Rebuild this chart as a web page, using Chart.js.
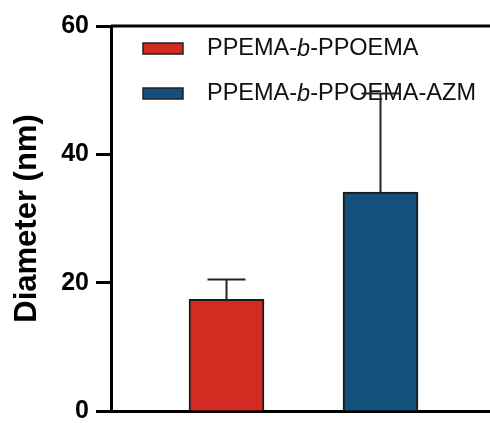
<!DOCTYPE html>
<html>
<head>
<meta charset="utf-8">
<script src="https://cdn.jsdelivr.net/npm/chart.js@4.4.0/dist/chart.umd.min.js"></script>
<style>
  html, body { margin: 0; padding: 0; background: #fff; }
  #wrap { width: 490px; height: 423px; }
</style>
</head>
<body>
<div id="wrap"><canvas id="sizeChart"></canvas></div>
<script>
const categories = ["PPEMA-b-PPOEMA", "PPEMA-b-PPOEMA-AZM"];
const diameters = [17.4, 34.1];
const errors = [3.1, 15.4];
const barColors = ["#D32B21", "#14507C"];
const yTicks = [0, 20, 40, 60];

const FONT = "'Liberation Sans', Arial, sans-serif";

// error bars (upper only, like the original)
const errorBars = {
  id: "errorBars",
  afterDatasetsDraw(chart) {
    const { ctx, scales } = chart;
    const meta = chart.getDatasetMeta(0);
    ctx.save();
    ctx.strokeStyle = "#222";
    ctx.lineWidth = 2;
    meta.data.forEach((bar, i) => {
      const yTop = scales.y.getPixelForValue(diameters[i] + errors[i]);
      const yBar = scales.y.getPixelForValue(diameters[i]);
      ctx.beginPath();
      ctx.moveTo(bar.x, yBar);
      ctx.lineTo(bar.x, yTop);
      ctx.moveTo(bar.x - 19, yTop);
      ctx.lineTo(bar.x + 19, yTop);
      ctx.stroke();
    });
    ctx.restore();
  }
};

// top frame line
const topFrame = {
  id: "topFrame",
  afterDraw(chart) {
    const { ctx, chartArea } = chart;
    ctx.save();
    ctx.strokeStyle = "#000";
    ctx.lineWidth = 3;
    ctx.beginPath();
    ctx.moveTo(chartArea.left, chartArea.top);
    ctx.lineTo(chartArea.right, chartArea.top);
    ctx.stroke();
    ctx.restore();
  }
};

// legend with the italic "b"
const italicLegend = {
  id: "italicLegend",
  beforeDatasetsDraw(chart) {
    const { ctx } = chart;
    ctx.save();
    categories.forEach((name, i) => {
      const boxY = 43 + i * 45;
      ctx.fillStyle = barColors[i];
      ctx.fillRect(143, boxY, 40, 11);
      ctx.strokeStyle = "#222";
      ctx.lineWidth = 1.5;
      ctx.strokeRect(143, boxY, 40, 11);

      const parts = name.split("-b-");
      const pieces = [
        [parts[0] + "-", "normal"],
        ["b", "italic"],
        ["-" + parts[1], "normal"]
      ];
      let x = 207;
      ctx.fillStyle = "#111";
      ctx.textBaseline = "middle";
      pieces.forEach(([txt, style]) => {
        ctx.font = style + " 23.5px " + FONT;
        ctx.fillText(txt, x, boxY + 6);
        x += ctx.measureText(txt).width;
      });
    });
    ctx.restore();
  }
};

new Chart(document.getElementById("sizeChart"), {
  type: "bar",
  data: {
    datasets: [{
      data: diameters.map((v, i) => ({ x: i + 1, y: v })),
      backgroundColor: barColors,
      borderColor: "#1a1a1a",
      borderWidth: 2,
      barThickness: 75
    }]
  },
  options: {
    responsive: true,
    maintainAspectRatio: false,
    animation: false,
    layout: { padding: { top: 26, bottom: 12, left: 0, right: 0 } },
    plugins: {
      legend: { display: false },
      tooltip: { enabled: false }
    },
    scales: {
      x: {
        type: "linear",
        offset: false,
        min: 0.25,
        max: 2.711,
        grid: { display: false },
        ticks: { display: false },
        border: { display: true, color: "#000", width: 3 },
        afterFit(scale) {
          scale.height = 0;
          scale.paddingLeft = 0;
          scale.paddingRight = 0;
        }
      },
      y: {
        min: 0,
        max: 60,
        afterBuildTicks(scale) {
          scale.ticks = yTicks.map(v => ({ value: v }));
        },
        afterFit(scale) {
          scale.width = 111;
          scale.paddingTop = 0;
          scale.paddingBottom = 0;
        },
        grid: {
          drawOnChartArea: false,
          drawTicks: true,
          tickLength: 15,
          tickWidth: 3,
          tickColor: "#000"
        },
        border: { display: true, color: "#000", width: 3 },
        ticks: {
          color: "#000",
          padding: 7,
          font: { family: FONT, size: 25, weight: "bold" }
        },
        title: {
          display: true,
          text: "Diameter (nm)",
          color: "#000",
          padding: { top: 9, bottom: 0 },
          font: { family: FONT, size: 31, weight: "bold" }
        }
      }
    }
  },
  plugins: [italicLegend, errorBars, topFrame]
});
</script>
</body>
</html>
